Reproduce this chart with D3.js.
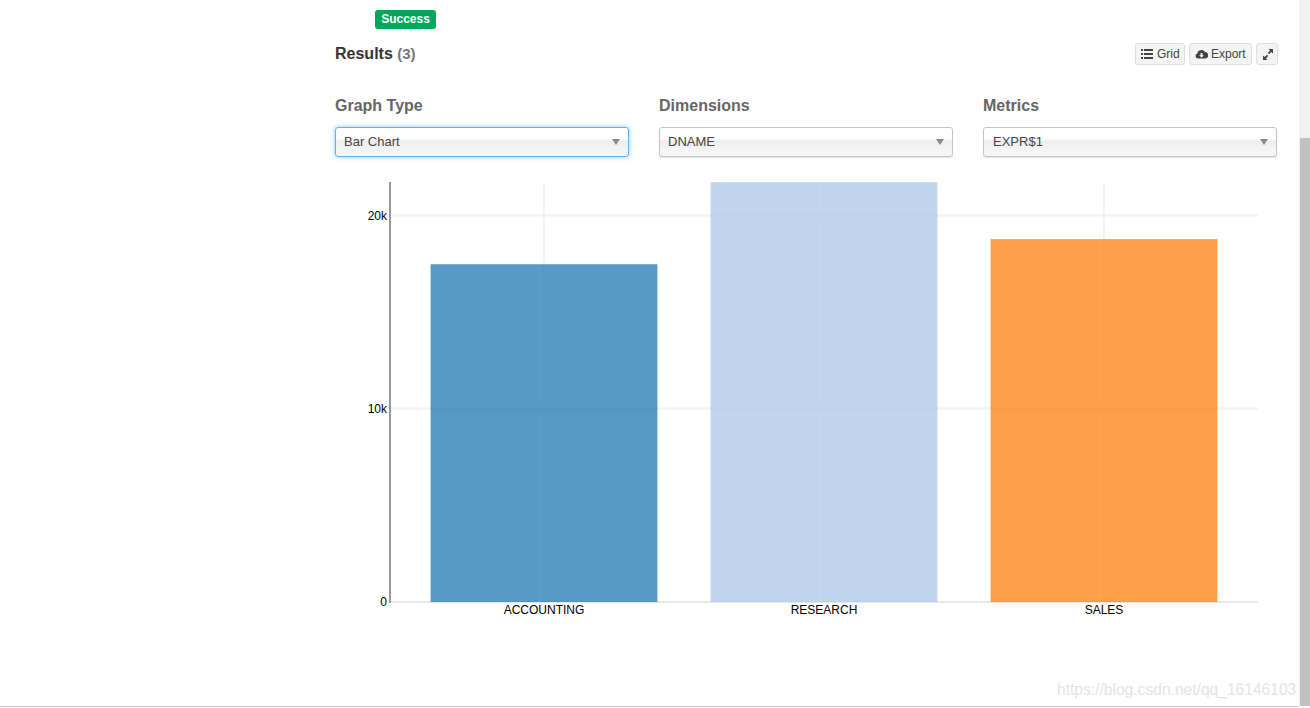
<!DOCTYPE html>
<html><head><meta charset="utf-8">
<script src="https://cdn.jsdelivr.net/npm/d3@7"></script>
<style>
html,body{margin:0;padding:0;width:1310px;height:708px;overflow:hidden;background:#fff;font-family:"Liberation Sans",Arial,sans-serif;}
.abs{position:absolute;white-space:nowrap;}
#badge{left:375px;top:10px;width:61px;height:19px;background:#00a65a;border-radius:3px;color:#fff;font-weight:bold;font-size:12px;line-height:18px;text-align:center;}
#results{left:335px;top:44px;font-size:16px;font-weight:bold;color:#333;line-height:20px;}
#results span{color:#777;font-size:15px;}
.lbl{top:96px;font-size:16px;font-weight:bold;color:#666;line-height:19px;}
.sel{top:127px;height:28px;box-sizing:content-box;border:1px solid #c4c4c4;border-radius:3px;background:linear-gradient(#fff 0,#fff 36%,#eee 48%,#f3f3f3 72%,#f8f8f8 100%);box-shadow:0 1px 1px rgba(0,0,0,.1);font-size:13px;color:#444;line-height:27px;text-indent:8px;}
.sel.focus{border-color:#66afe9;box-shadow:0 0 5px rgba(102,175,233,.7);}
.sel i{position:absolute;right:8px;top:11px;width:0;height:0;border-left:4px solid transparent;border-right:4px solid transparent;border-top:6px solid #888;}
.btn{top:43px;height:20px;border:1px solid #ddd;border-radius:3px;background:#f4f4f4;color:#444;font-size:12px;line-height:20px;box-sizing:content-box;}
.btn svg{position:absolute;top:4px;}
.btn span{position:absolute;top:0;}
#sbt{left:1299px;top:0;width:11px;height:706px;background:#f1f1f1;}
#sbh{left:1300px;top:138px;width:10px;height:568px;background:#c1c1c1;}
#bottom{left:0;top:706px;width:1299px;height:1px;background:#c8c8c8;}
#wm{left:1057px;top:680px;font-size:15.6px;color:#e4e4e4;line-height:20px;}
svg text{font-family:"Liberation Sans",Arial,sans-serif;}
</style></head><body>
<div id="sbt" class="abs"></div><div id="sbh" class="abs"></div><div id="bottom" class="abs"></div>
<div id="badge" class="abs">Success</div>
<div id="results" class="abs">Results <span>(3)</span></div>
<div class="abs lbl" style="left:335px">Graph Type</div>
<div class="abs lbl" style="left:659px">Dimensions</div>
<div class="abs lbl" style="left:983px">Metrics</div>
<div class="abs sel focus" style="left:335px;width:292px">Bar Chart<i></i></div>
<div class="abs sel" style="left:659px;width:292px">DNAME<i></i></div>
<div class="abs sel" style="left:983px;width:292px;text-indent:9px">EXPR$1<i></i></div>
<div class="abs btn" style="left:1135px;width:48px"><svg width="12" height="12" viewBox="0 0 12 12" style="left:5px"><path d="M0 1h2v2H0zM0 5h2v2H0zM0 9h2v2H0zM3 1h9v2H3zM3 5h9v2H3zM3 9h9v2H3z" fill="#444"/></svg><span style="left:21px">Grid</span></div>
<div class="abs btn" style="left:1189px;width:61px"><svg width="13" height="12" viewBox="0 0 13 12" style="left:5px"><path d="M3 10.5a2.6 2.6 0 0 1-.5-5.1A3 3 0 0 1 6 2.2a3.4 3.4 0 0 1 3.9 1.9 3.2 3.2 0 0 1 .2 6.4z" fill="#444"/><path d="M5.6 5h1.8v2.2H9L6.5 9.6 4 7.2h1.6z" fill="#f4f4f4"/></svg><span style="left:21px">Export</span></div>
<div class="abs btn" style="left:1256px;width:20px"><svg width="12" height="12" viewBox="0 0 12 12" style="left:5px"><path d="M6.5 1H11v4.5L9.4 3.9 7 6.2 5.8 5 8.1 2.6zM5 6.8l1.2 1.2-2.3 2.4L5.5 12H1V7.5l1.6 1.6z" fill="#444"/></svg></div>
<div id="wm" class="abs">https://blog.csdn.net/qq_16146103</div>
<svg id="chart" class="abs" style="left:0;top:0" width="1299" height="706"></svg>
<script>
const categories = ["ACCOUNTING", "RESEARCH", "SALES"];
const seriesValues = [17500, 21750, 18800];
const barColors = ["#1f77b4", "#aec7e8", "#ff7f0e"];
const yTickValues = [0, 10000, 20000];
const yTickLabels = ["0", "10k", "20k"];

const svg = d3.select("#chart");
const plotLeft = 390, plotRight = 1258, plotTop = 182, plotBottom = 602;
const x = d3.scaleBand().domain(categories).range([plotLeft, plotRight]).paddingInner(0.19).paddingOuter(0.145);
const y = d3.scaleLinear().domain([0, 21762]).range([plotBottom, plotTop]);

// axis lines and grid sit under the translucent bars
svg.append("line").attr("x1", plotLeft).attr("x2", plotRight).attr("y1", plotBottom).attr("y2", plotBottom)
  .attr("stroke", "#e8e8e8").attr("stroke-width", 2);

const grid = svg.append("g").attr("stroke", "#e5e5e5").attr("stroke-opacity", 0.5);
grid.selectAll("line.h").data(yTickValues.slice(1)).join("line").attr("class", "h")
  .attr("x1", plotLeft).attr("x2", plotRight).attr("y1", d => y(d) - 0.5).attr("y2", d => y(d) - 0.5)
  .attr("stroke-width", 2);
grid.selectAll("line.v").data(categories).join("line").attr("class", "v")
  .attr("x1", d => x(d) + x.bandwidth() / 2).attr("x2", d => x(d) + x.bandwidth() / 2)
  .attr("y1", plotTop).attr("y2", plotBottom).attr("stroke-opacity", 0.8);

svg.append("g").selectAll("rect").data(categories).join("rect")
  .attr("x", d => x(d)).attr("width", x.bandwidth())
  .attr("y", (d, i) => y(seriesValues[i]))
  .attr("height", (d, i) => plotBottom - y(seriesValues[i]))
  .attr("fill", (d, i) => barColors[i]).attr("fill-opacity", 0.75);

const yAxis = d3.axisLeft(y).tickValues(yTickValues).tickSize(0).tickPadding(3)
  .tickFormat((d, i) => yTickLabels[i]);
const gy = svg.append("g").attr("transform", `translate(${plotLeft},-0.5)`).call(yAxis);
gy.select(".domain").remove();
gy.selectAll("text").attr("font-size", 12).attr("fill", "#000");
svg.append("line").attr("x1", plotLeft).attr("x2", plotLeft).attr("y1", plotTop).attr("y2", plotBottom + 1)
  .attr("stroke", "#999").attr("stroke-width", 2);

const xAxis = d3.axisBottom(x).tickSize(0).tickPadding(3.5);
const gx = svg.append("g").attr("transform", `translate(0,${plotBottom})`).call(xAxis);
gx.select(".domain").remove();
gx.selectAll("text").attr("font-size", 12).attr("fill", "#000");
</script>
</body></html>
